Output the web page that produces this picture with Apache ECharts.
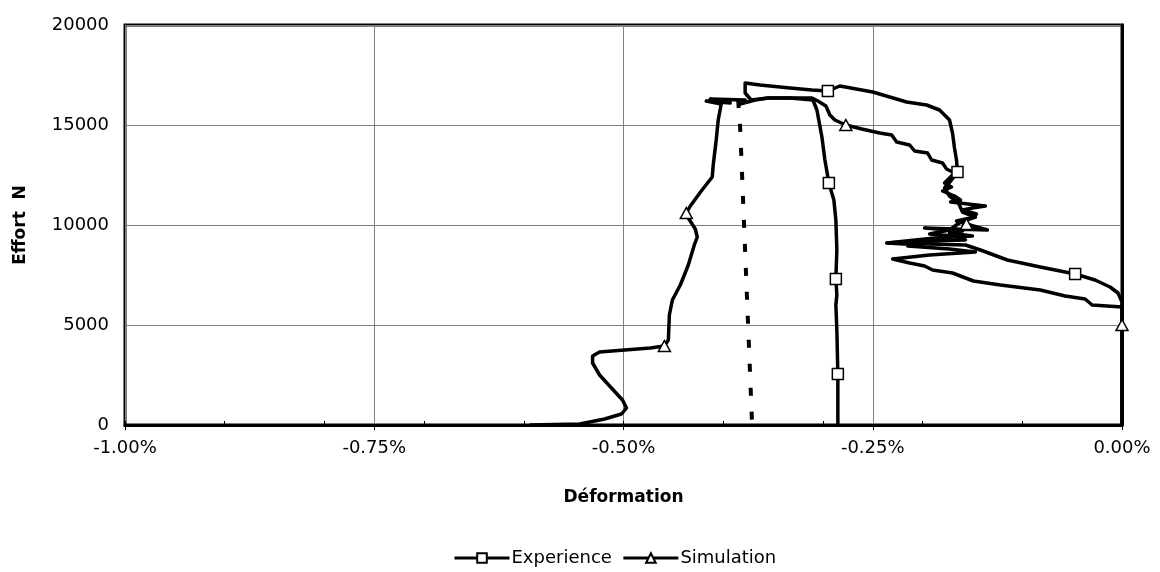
<!DOCTYPE html>
<html>
<head>
<meta charset="utf-8">
<script src="https://cdn.jsdelivr.net/npm/echarts@6/dist/echarts.min.js"></script>
<style>
html,body{margin:0;padding:0;background:#fff;}
#chart{width:1160px;height:572px;}
</style>
</head>
<body>
<div id="chart"></div>
<script>
// Axis settings (x in percent units)
const xTicks = [-1, -0.75, -0.5, -0.25, 0];
const yTicks = [0, 5000, 10000, 15000, 20000];
const seriesNames = ['Experience', 'Simulation'];

// Experience (square markers)
const expX = [-0.285,-0.285,-0.286,-0.287,-0.286,-0.287,-0.286,-0.287,-0.289,-0.294,-0.298,-0.301,-0.306,-0.310,-0.333,-0.355,-0.372,-0.378,-0.378,-0.363,-0.333,-0.311,-0.295,-0.283,-0.250,-0.216,-0.196,-0.183,-0.173,-0.170,-0.168,-0.166,-0.165,-0.171,-0.178,-0.173,-0.164,-0.160,-0.147,-0.162,-0.173,-0.193,-0.168,-0.157,-0.203,-0.235,-0.193,-0.157,-0.142,-0.115,-0.082,-0.047,-0.027,-0.012,-0.004,0,0];
const expY = [0,2550,4750,6000,6500,7300,8750,10250,11250,12100,13250,14400,15750,16250,16350,16350,16250,16600,17100,17000,16850,16750,16700,16950,16650,16150,16000,15750,15250,14600,13850,13250,12650,12250,11850,11450,11100,10650,10400,10150,9750,9550,9450,9250,9200,9100,9050,9000,8750,8250,7900,7550,7250,6900,6600,6150,0];
const expMarkers = [1,5,9,22,32,51];

// Simulation (triangle markers)
const simX = [-0.594,-0.544,-0.519,-0.502,-0.497,-0.501,-0.513,-0.524,-0.531,-0.531,-0.524,-0.499,-0.473,-0.459,-0.455,-0.454,-0.451,-0.443,-0.435,-0.429,-0.426,-0.428,-0.435,-0.437,-0.433,-0.422,-0.411,-0.410,-0.407,-0.405,-0.402,-0.417,-0.393,-0.413,-0.378,-0.383,-0.368,-0.355,-0.333,-0.311,-0.305,-0.297,-0.293,-0.288,-0.277,-0.261,-0.243,-0.231,-0.226,-0.213,-0.208,-0.195,-0.191,-0.180,-0.176,
  -0.168,-0.178,-0.171,-0.180,-0.168,-0.162,-0.172,-0.137,-0.150,-0.160,-0.146,-0.152,-0.166,-0.156,-0.135,-0.168,-0.198,-0.160,-0.173,-0.150,-0.188,-0.236,-0.200,-0.215,-0.173,-0.147,-0.193,-0.230,-0.213,-0.198,-0.190,-0.170,-0.149,-0.122,-0.082,-0.057,-0.037,-0.030,0,0,0];
const simY = [0,50,300,550,850,1250,1900,2500,3100,3450,3650,3750,3850,3950,4250,5500,6250,7000,8000,9000,9400,9800,10350,10600,10950,11700,12400,13000,14250,15250,16050,16200,16100,16300,16250,16050,16250,16350,16350,16350,16200,15950,15500,15250,15000,14800,14600,14500,14150,14000,13700,13600,13250,13100,12800,
  12600,12100,11900,11700,11450,11250,11150,10950,10850,10750,10550,10350,10200,10050,9750,9800,9850,9700,9600,9450,9350,9100,9000,8950,8800,8650,8500,8300,8100,7950,7750,7600,7200,7000,6750,6450,6300,6000,5900,5000,0];
const simMarkers = [13,23,44,68,94];

// Dotted vertical trace
const dotX = [-0.385,-0.383,-0.371];
const dotY = [16250,14900,0];

function build(xs, ys, marks) {
  return xs.map((x, i) => marks.indexOf(i) >= 0 ? [x, ys[i]] : {value: [x, ys[i]], symbol: 'none'});
}

const FONT = 'DejaVu Sans';
const chart = echarts.init(document.getElementById('chart'), null, {renderer: 'canvas'});
chart.setOption({
  animation: false,
  backgroundColor: '#fff',
  textStyle: {fontFamily: FONT, color: '#000'},
  grid: {left: 125, right: 38, top: 25, bottom: 147, show: true, borderColor: '#000', borderWidth: 3, backgroundColor: 'transparent'},
  legend: {
    data: seriesNames,
    left: 448, top: 544,
    itemWidth: 55, itemHeight: 12, itemGap: 10,
    lineStyle: {width: 3, color: '#000'},
    textStyle: {fontFamily: FONT, fontSize: 18, color: '#000', padding: [0,0,0,-3]}
  },
  xAxis: [{
    type: 'value', min: xTicks[0], max: xTicks[xTicks.length-1], interval: 0.25,
    position: 'bottom',
    name: 'Déformation', nameLocation: 'middle', nameGap: 64,
    nameTextStyle: {fontFamily: FONT, fontWeight: 'bold', fontSize: 17, color: '#000'},
    axisLine: {show: true, onZero: false, lineStyle: {color: '#000', width: 3}},
    axisTick: {show: true, inside: false, length: 5, lineStyle: {color: '#000', width: 1}},
    axisLabel: {fontFamily: FONT, fontSize: 18, color: '#000', margin: 14, formatter: v => v.toFixed(2) + '%'},
    splitLine: {show: true, lineStyle: {color: '#808080', width: 1}}
  }, {
    type: 'value', min: -1, max: 0, interval: 0.1,
    position: 'bottom',
    axisLine: {show: false},
    axisTick: {show: true, inside: true, length: 4, lineStyle: {color: '#000', width: 1}},
    axisLabel: {show: false},
    splitLine: {show: false}
  }],
  yAxis: {
    type: 'value', min: yTicks[0], max: yTicks[yTicks.length-1], interval: 5000,
    name: 'Effort  N', nameLocation: 'middle', nameGap: 96,
    nameTextStyle: {fontFamily: FONT, fontWeight: 'bold', fontSize: 17, color: '#000'},
    axisLine: {show: true, lineStyle: {color: '#000', width: 3}},
    axisTick: {show: false},
    axisLabel: {fontFamily: FONT, fontSize: 18, color: '#000', margin: 16, formatter: v => String(v)},
    splitLine: {show: true, lineStyle: {color: '#808080', width: 1}}
  },
  series: [{
    name: seriesNames[0], type: 'line', xAxisIndex: 0,
    data: build(expX, expY, expMarkers),
    symbol: 'rect', symbolSize: 11,
    itemStyle: {color: '#fff', borderColor: '#000', borderWidth: 1.5},
    lineStyle: {color: '#000', width: 3.5, join: 'round'},
    z: 3
  }, {
    name: seriesNames[1], type: 'line', xAxisIndex: 0,
    data: build(simX, simY, simMarkers),
    symbol: 'triangle', symbolSize: [12, 11],
    itemStyle: {color: '#fff', borderColor: '#000', borderWidth: 1.5},
    lineStyle: {color: '#000', width: 3.5, join: 'round'},
    z: 3
  }, {
    name: 'Trace', type: 'line', xAxisIndex: 0,
    data: dotX.map((x, i) => [x, dotY[i]]),
    symbol: 'none',
    lineStyle: {color: '#000', width: 4, type: [8, 16]},
    z: 2
  }]
});
</script>
</body>
</html>
